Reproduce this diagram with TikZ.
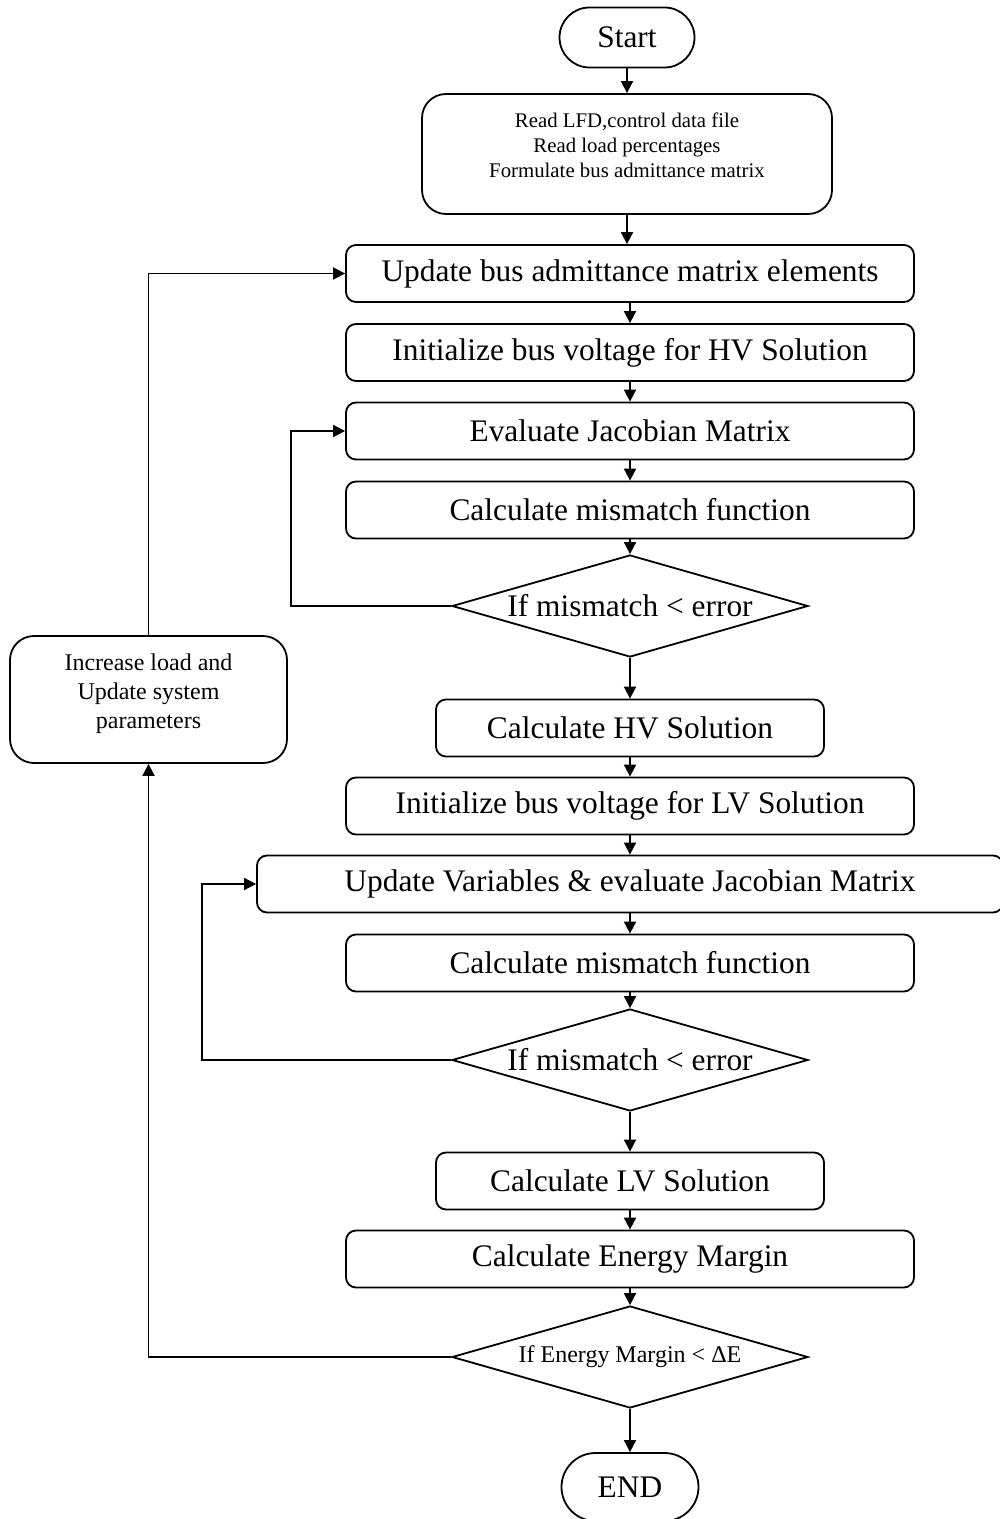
\documentclass[tikz,border=0pt]{standalone}
\usepackage{fontspec}
\setmainfont{Liberation Serif}
\usetikzlibrary{shapes.geometric,arrows.meta}
\newcommand\flowfont{\fontsize{15.7pt}{18pt}\selectfont}
\newcommand\readfont{\fontsize{10.4pt}{12.5pt}\selectfont}
\newcommand\sidefont{\fontsize{12pt}{14.3pt}\selectfont}
\tikzset{
  stepbox/.style={draw, rounded corners=5pt, inner sep=0pt, minimum width=284pt, minimum height=28.5pt, font=\flowfont},
  shortbox/.style={stepbox, minimum width=194pt},
  widebox/.style={stepbox, minimum width=373pt},
  terminal/.style={draw, inner sep=0pt, font=\flowfont},
  check/.style={draw, diamond, aspect=3.5, inner sep=0pt, minimum width=178pt, minimum height=51pt, font=\flowfont},
  flow/.style={-{Triangle[length=6pt,width=6pt]}},
}
\begin{document}
\begin{tikzpicture}[x=0.5pt,y=-0.5pt,line width=0.9pt]
\useasboundingbox (0,0) rectangle (1000,1519);
\node[terminal, rounded corners=15pt, minimum width=67.5pt, minimum height=30pt] (start) at (627,37.5) {Start};
\node[draw, rounded corners=12pt, inner sep=0pt, minimum width=205pt, minimum height=60pt, align=center, font=\readfont] (read) at (627,154) {Read LFD,control data file\\Read load percentages\\Formulate bus admittance matrix\\[-4pt]~};
\node[stepbox] (b2) at (630,273.5) {Update bus admittance matrix elements};
\node[stepbox] (b3) at (630,352.5) {Initialize bus voltage for HV Solution};
\node[stepbox] (b4) at (630,431) {Evaluate Jacobian Matrix};
\node[stepbox] (b5) at (630,510) {Calculate mismatch function};
\node[check] (d1) at (630,606) {If mismatch < error};
\node[shortbox] (b6) at (630,728) {Calculate HV Solution};
\node[stepbox] (b7) at (630,806) {Initialize bus voltage for LV Solution};
\node[widebox] (b8) at (630,884) {Update Variables \& evaluate Jacobian Matrix};
\node[stepbox] (b9) at (630,963) {Calculate mismatch function};
\node[check] (d2) at (630,1060) {If mismatch < error};
\node[shortbox] (b10) at (630,1181) {Calculate LV Solution};
\node[stepbox] (b11) at (630,1259) {Calculate Energy Margin};
\node[check, font=\sidefont] (d3) at (630,1357) {If Energy Margin < ΔE};
\node[terminal, rounded corners=17pt, minimum width=68.5pt, minimum height=34pt] (end) at (630,1487) {END};
\node[draw, rounded corners=12pt, inner sep=0pt, minimum width=138.5pt, minimum height=63.5pt, align=center, font=\sidefont] (side) at (148.5,699.5) {Increase load and\\Update system\\parameters\\[-6pt]~};
\draw[flow] (start) -- (start |- read.north);
\draw[flow] (read.south) -- (read.south |- b2.north);
\draw[flow] (b2) -- (b3);
\draw[flow] (b3) -- (b4);
\draw[flow] (b4) -- (b5);
\draw[flow] (b5) -- (d1);
\draw[flow] (d1) -- (b6);
\draw[flow] (b6) -- (b7);
\draw[flow] (b7) -- (b8);
\draw[flow] (b8) -- (b9);
\draw[flow] (b9) -- (d2);
\draw[flow] (d2) -- (b10);
\draw[flow] (b10) -- (b11);
\draw[flow] (b11) -- (d3);
\draw[flow] (d3) -- (end);
\draw[flow] (d1.west) -- ++(-160,0) |- (b4.west);
\draw[flow] (d2.west) -- ++(-249,0) |- (b8.west);
\draw[flow] (d3.west) -| (side.south);
\draw[flow] (side.north) |- (b2.west);
\end{tikzpicture}
\end{document}
